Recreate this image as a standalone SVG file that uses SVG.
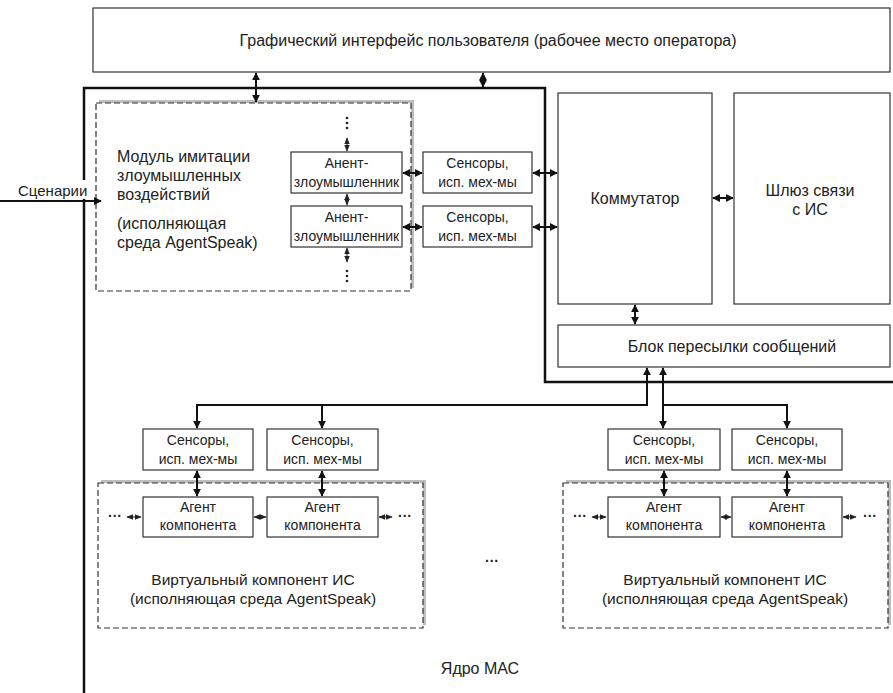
<svg xmlns="http://www.w3.org/2000/svg" width="893" height="693" viewBox="0 0 893 693">
<defs>
<marker id="ah" viewBox="0 0 10 10" refX="9" refY="5" markerWidth="4" markerHeight="4" orient="auto-start-reverse"><path d="M0,0 L10,5 L0,10 z" fill="#111"/></marker>
<marker id="as" viewBox="0 0 10 10" refX="9" refY="5" markerWidth="7" markerHeight="7" orient="auto-start-reverse"><path d="M0,1 L10,5 L0,9 z" fill="#222"/></marker>
<style>
.box{fill:#fff;stroke:#333;stroke-width:1.2}
.dash{fill:#fff;stroke:#333;stroke-width:1.2;stroke-dasharray:6,3}
.shadow{fill:#bdbdbd}
.core{fill:none;stroke:#111;stroke-width:2.5}
.c{fill:none;stroke:#111;stroke-width:2}
.thin{fill:none;stroke:#222;stroke-width:1}
.dot{fill:#222}
text{font-family:"Liberation Sans",Arial,sans-serif;fill:#222}
.t14{font-size:14px;text-anchor:middle}
.t16{font-size:16px}
.mid{text-anchor:middle}
.dots{font-size:14px;font-weight:bold;text-anchor:middle}
</style>
</defs>
<rect width="893" height="693" fill="#fff"/>

<g id="gui"><rect class="box" x="93" y="8" width="797" height="64"/><text class="t16 mid" x="488" y="46">Графический интерфейс пользователя (рабочее место оператора)</text></g>

<g id="core"><path class="core" d="M84,693 V88 H545 V382 H893"/><text class="t16 mid" x="480" y="674">Ядро МАС</text></g>

<g id="attack-module">
<rect class="shadow" x="99" y="100" width="315" height="188"/>
<rect class="dash" x="96" y="103" width="315" height="188"/>
<text class="t16" x="117" y="162">Модуль имитации</text>
<text class="t16" x="117" y="181">злоумышленных</text>
<text class="t16" x="117" y="200">воздействий</text>
<text class="t16" x="117" y="229">(исполняющая</text>
<text class="t16" x="117" y="248">среда AgentSpeak)</text>
<circle class="dot" cx="347" cy="118" r="1.3"/>
<circle class="dot" cx="347" cy="123" r="1.3"/>
<circle class="dot" cx="347" cy="128" r="1.3"/>
<circle class="dot" cx="347" cy="271" r="1.3"/>
<circle class="dot" cx="347" cy="276" r="1.3"/>
<circle class="dot" cx="347" cy="281" r="1.3"/>
</g>
<g id="attacker1"><rect class="box" x="291" y="152" width="111" height="41"/><text class="t14" x="346.5" y="168">Анент-</text><text class="t14" x="346.5" y="187">злоумышленник</text></g>
<g id="attacker2"><rect class="box" x="291" y="206" width="111" height="41"/><text class="t14" x="346.5" y="222">Анент-</text><text class="t14" x="346.5" y="241">злоумышленник</text></g>
<g id="sensors-a1"><rect class="box" x="423" y="152" width="109" height="41"/><text class="t14" x="477.5" y="168">Сенсоры,</text><text class="t14" x="477.5" y="187">исп. мех-мы</text></g>
<g id="sensors-a2"><rect class="box" x="423" y="206" width="109" height="41"/><text class="t14" x="477.5" y="222">Сенсоры,</text><text class="t14" x="477.5" y="241">исп. мех-мы</text></g>

<g id="scenarios"><rect x="16" y="180" width="76" height="19" fill="#fff"/><text x="18" y="196" font-size="15">Сценарии</text></g>

<g id="switch"><rect class="box" x="558" y="93" width="154" height="211"/><text class="t16 mid" x="635" y="204">Коммутатор</text></g>
<g id="gateway"><rect class="box" x="734" y="93" width="156" height="211"/><text class="t16 mid" x="810" y="196">Шлюз связи</text><text class="t16 mid" x="810" y="215">с ИС</text></g>
<g id="msg-block"><rect class="box" x="558" y="325" width="332" height="42"/><text class="t16 mid" x="732" y="352">Блок пересылки сообщений</text></g>

<g id="vc1">
<rect class="shadow" x="101" y="480" width="325" height="145"/>
<rect class="dash" x="98" y="483" width="325" height="145"/>
<text class="mid" font-size="15.5" x="253" y="585">Виртуальный компонент ИС</text>
<text class="mid" font-size="15.5" x="253" y="604">(исполняющая среда AgentSpeak)</text>
<text class="dots" x="115" y="521">···</text>
<text class="dots" x="405" y="521">···</text>
</g>
<g id="vc2">
<rect class="shadow" x="566" y="480" width="325" height="145"/>
<rect class="dash" x="563" y="483" width="325" height="145"/>
<text class="mid" font-size="15.5" x="725" y="585">Виртуальный компонент ИС</text>
<text class="mid" font-size="15.5" x="725" y="604">(исполняющая среда AgentSpeak)</text>
<text class="dots" x="580" y="521">···</text>
<text class="dots" x="870" y="521">···</text>
</g>
<g id="ellipsis"><text class="dots" x="492" y="566">···</text></g>

<g id="s1"><rect class="box" x="143" y="429" width="110" height="41"/><text class="t14" x="198" y="445">Сенсоры,</text><text class="t14" x="198" y="464">исп. мех-мы</text></g>
<g id="s2"><rect class="box" x="267" y="429" width="111" height="41"/><text class="t14" x="322.5" y="445">Сенсоры,</text><text class="t14" x="322.5" y="464">исп. мех-мы</text></g>
<g id="s3"><rect class="box" x="608" y="429" width="112" height="41"/><text class="t14" x="664" y="445">Сенсоры,</text><text class="t14" x="664" y="464">исп. мех-мы</text></g>
<g id="s4"><rect class="box" x="732" y="429" width="110" height="41"/><text class="t14" x="787" y="445">Сенсоры,</text><text class="t14" x="787" y="464">исп. мех-мы</text></g>
<g id="ag1"><rect class="box" x="143" y="497" width="110" height="40"/><text class="t14" x="198" y="512">Агент</text><text class="t14" x="198" y="530">компонента</text></g>
<g id="ag2"><rect class="box" x="267" y="497" width="111" height="40"/><text class="t14" x="322.5" y="512">Агент</text><text class="t14" x="322.5" y="530">компонента</text></g>
<g id="ag3"><rect class="box" x="608" y="497" width="112" height="40"/><text class="t14" x="664" y="512">Агент</text><text class="t14" x="664" y="530">компонента</text></g>
<g id="ag4"><rect class="box" x="732" y="497" width="110" height="40"/><text class="t14" x="787" y="512">Агент</text><text class="t14" x="787" y="530">компонента</text></g>

<g id="connectors">
<path class="c" d="M256,73 V102" marker-start="url(#ah)" marker-end="url(#ah)"/>
<path class="c" d="M483,73 V87" marker-start="url(#ah)" marker-end="url(#ah)"/>
<path class="c" d="M0,201 H101" marker-end="url(#ah)"/>
<path class="c" d="M403,173 H422" marker-start="url(#ah)" marker-end="url(#ah)"/>
<path class="c" d="M403,227 H422" marker-start="url(#ah)" marker-end="url(#ah)"/>
<path class="c" d="M533,173 H557" marker-start="url(#ah)" marker-end="url(#ah)"/>
<path class="c" d="M533,227 H557" marker-start="url(#ah)" marker-end="url(#ah)"/>
<path class="thin" d="M347,138 V151" marker-start="url(#as)" marker-end="url(#as)"/>
<path class="thin" d="M347,194 V205" marker-start="url(#as)" marker-end="url(#as)"/>
<path class="thin" d="M347,248 V262" marker-start="url(#as)" marker-end="url(#as)"/>
<path class="c" d="M713,198 H733" marker-start="url(#ah)" marker-end="url(#ah)"/>
<path class="c" d="M635,305 V324" marker-start="url(#ah)" marker-end="url(#ah)"/>
<path class="c" d="M647,368 V405 H197 V428" marker-start="url(#ah)" marker-end="url(#ah)"/>
<path class="c" d="M322,405 V428" marker-end="url(#ah)"/>
<path class="c" d="M663,368 V428" marker-start="url(#ah)" marker-end="url(#ah)"/>
<path class="c" d="M663,405 H787 V428" marker-end="url(#ah)"/>
<path class="c" d="M197,471 V496" marker-start="url(#ah)" marker-end="url(#ah)"/>
<path class="c" d="M322,471 V496" marker-start="url(#ah)" marker-end="url(#ah)"/>
<path class="c" d="M664,471 V496" marker-start="url(#ah)" marker-end="url(#ah)"/>
<path class="c" d="M787,471 V496" marker-start="url(#ah)" marker-end="url(#ah)"/>
<path class="thin" d="M127,517 H141" marker-start="url(#as)" marker-end="url(#as)"/>
<path class="thin" d="M254,517 H266" marker-start="url(#as)" marker-end="url(#as)"/>
<path class="thin" d="M379,517 H392" marker-start="url(#as)" marker-end="url(#as)"/>
<path class="thin" d="M592,517 H606" marker-start="url(#as)" marker-end="url(#as)"/>
<path class="thin" d="M721,517 H731" marker-start="url(#as)" marker-end="url(#as)"/>
<path class="thin" d="M843,517 H856" marker-start="url(#as)" marker-end="url(#as)"/>
</g>
</svg>
